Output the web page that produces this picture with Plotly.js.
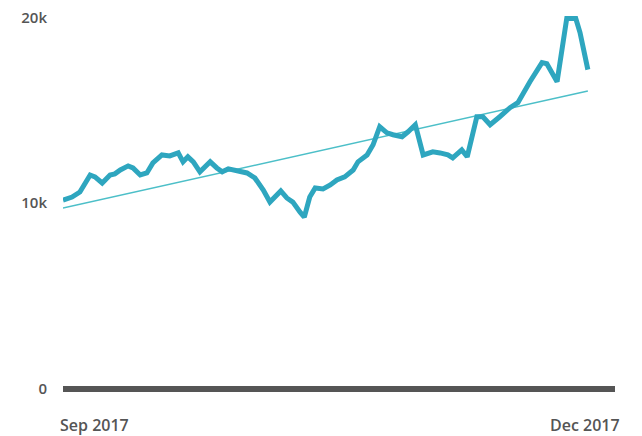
<!DOCTYPE html>
<html>
<head>
<meta charset="utf-8">
<script src="https://cdn.plot.ly/plotly-3.0.1.min.js"></script>
<style>
  html, body { margin: 0; padding: 0; background: #ffffff; }
  #chart { width: 642px; height: 436px; }
</style>
</head>
<body>
<div id="chart"></div>
<script>
// Days since 2017-09-01 for each point of the series
const dayOffsets = [0,1.5,2.8,4.5,5.3,6.5,7.8,8.6,9.5,10.8,11.6,12.8,13.9,14.9,16.4,17.7,19.1,19.9,20.7,21.6,22.7,24.4,25.5,26.4,27.4,28.2,29.3,30.5,
  31.8,33.2,34.3,36.1,37.1,38.1,39.3,40.0,
  40.9,41.8,43.1,44.3,45.4,46.7,48.1,48.9,50.4,51.4,52.5,53.7,54.7,56.2,57.2,58.4,59.7,61.3,62.5,63.8,64.6,66.1,67.0,68.6,69.6,70.8,72.4,74.1,75.4,76.3,77.4,79.4,80.2,81.9,83.5,85.0,85.7,87.0];

const values = [10160,10320,10590,11510,11410,11080,11510,11570,11780,12000,11890,11510,11620,12160,12590,12540,12700,12220,12490,12220,11680,12220,11890,11680,11840,11780,11680,11620,
  11350,10700,10050,10650,10270,10050,9510,9240,
  10320,10810,10760,10970,11240,11410,11780,12220,12590,13140,14110,13780,13680,13570,13840,14220,12590,12760,12700,12590,12430,12860,12490,14650,14650,14220,14650,15140,15410,15950,16540,17570,17510,16540,19950,19950,19190,17190];

// Trend line end points
const trendOffsets = [0, 87.0];
const trendValues = [9730, 16040];

const yTickVals = [0, 10000, 20000];
const yTickText = ['0', '10k', '20k'];
const xLabels = ['Sep 2017', 'Dec 2017'];

function toDate(off) {
  const ms = Date.UTC(2017, 8, 1) + off * 86400000;
  return new Date(ms).toISOString().slice(0, 19).replace('T', ' ');
}

const traces = [
  {
    x: trendOffsets.map(toDate), y: trendValues,
    type: 'scatter', mode: 'lines',
    line: { color: '#4cbfc8', width: 1.5 },
    hoverinfo: 'skip'
  },
  {
    x: dayOffsets.map(toDate), y: values,
    type: 'scatter', mode: 'lines',
    line: { color: '#2ea6bf', width: 5, shape: 'linear' }
  }
];

const layout = {
  width: 642, height: 436,
  margin: { l: 63, r: 27, t: 10, b: 40 },
  paper_bgcolor: '#ffffff', plot_bgcolor: '#ffffff',
  showlegend: false,
  font: { family: 'Open Sans, sans-serif' },
  xaxis: {
    type: 'date',
    range: ['2017-09-01', '2017-12-01 12:00'],
    showgrid: false, zeroline: false, showticklabels: false, showline: false, ticks: ''
  },
  yaxis: {
    range: [-404, 20404],
    showgrid: false, showline: false, ticks: '',
    zeroline: true, zerolinecolor: '#555555', zerolinewidth: 6,
    tickvals: yTickVals, ticktext: yTickText,
    ticklabelstandoff: 15,
    tickfont: { family: 'Open Sans, sans-serif', size: 15, color: '#555555', weight: 600 }
  },
  annotations: [
    { text: xLabels[0], xref: 'paper', yref: 'paper', x: 0, y: 0, xanchor: 'left', yanchor: 'middle',
      xshift: -5, yshift: -29, showarrow: false,
      font: { family: 'Open Sans, sans-serif', size: 16, color: '#555555', weight: 600 } },
    { text: xLabels[1], xref: 'paper', yref: 'paper', x: 1, y: 0, xanchor: 'right', yanchor: 'middle',
      xshift: 7, yshift: -29, showarrow: false,
      font: { family: 'Open Sans, sans-serif', size: 16, color: '#555555', weight: 600 } }
  ]
};

Plotly.newPlot('chart', traces, layout, { displayModeBar: false, staticPlot: true });
</script>
</body>
</html>
